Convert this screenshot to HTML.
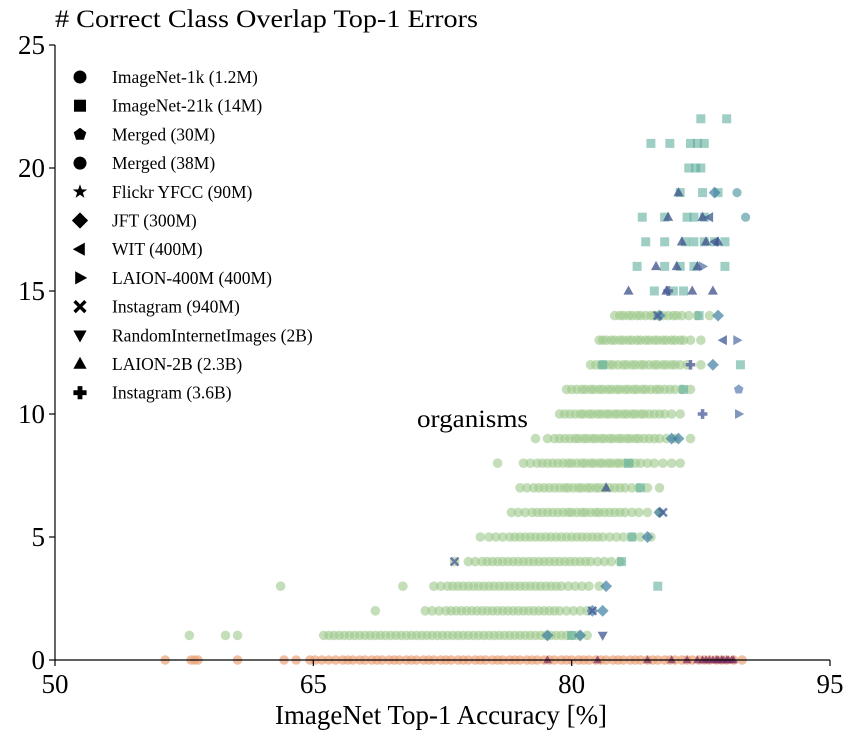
<!DOCTYPE html>
<html><head><meta charset="utf-8"><style>
body{margin:0;background:#fff}
svg{display:block;font-family:"Liberation Serif",serif}
</style></head><body>
<svg id="chart" width="862" height="748" viewBox="0 0 862 748" xmlns="http://www.w3.org/2000/svg">
<text x="55" y="27" font-size="25" textLength="423" lengthAdjust="spacingAndGlyphs"># Correct Class Overlap Top-1 Errors</text>
<g id="marks"></g>
<g id="axes"></g>
<text x="417" y="427" font-size="25" textLength="111" lengthAdjust="spacingAndGlyphs">organisms</text>
<text x="275" y="724" font-size="27" textLength="332" lengthAdjust="spacingAndGlyphs">ImageNet Top-1 Accuracy [%]</text>
<g id="legend"></g>
</svg>
<script>
const xTicks=[50,65,80,95];
const yTicks=[0,5,10,15,20,25];
const greenRows=[
[14,[82.5,82.8,83.0,83.3,83.5,83.8,84.0,84.3,84.6,84.8,85.0,85.3,85.6,85.9,86.1,86.4,86.8,87.3,88.0]],
[13,[81.6,81.8,82.0,82.3,82.5,82.8,83.0,83.3,83.5,83.8,84.0,84.3,84.5,84.8,85.0,85.3,85.5,85.8,86.0,86.3,86.5,86.9,87.5]],
[12,[81.1,81.4,81.7,81.9,82.2,82.4,82.7,83.0,83.2,83.5,83.7,84.0,84.2,84.5,84.8,85.0,85.3,85.5,85.8,86.0,86.3,86.7,87.5]],
[11,[79.7,80.0,80.3,80.6,80.8,81.1,81.3,81.6,81.8,82.1,82.3,82.6,82.8,83.1,83.3,83.6,83.8,84.1,84.3,84.6,84.9,85.1,85.4,85.7,86.0,86.4,86.9]],
[10,[79.3,79.6,79.9,80.2,80.5,80.7,81.0,81.2,81.5,81.7,82.0,82.2,82.5,82.7,83.0,83.2,83.5,83.7,84.0,84.2,84.5,84.8,85.1,85.4,85.8,86.3]],
[9,[77.9,78.6,79.0,79.3,79.6,79.9,80.2,80.4,80.7,80.9,81.2,81.4,81.7,81.9,82.2,82.4,82.7,82.9,83.2,83.4,83.7,83.9,84.2,84.5,84.8,85.1,85.5,86.0,86.9]],
[8,[75.7,77.2,77.6,78.0,78.3,78.6,78.9,79.2,79.5,79.8,80.0,80.3,80.6,80.8,81.1,81.3,81.6,81.8,82.1,82.3,82.6,82.8,83.1,83.4,83.7,84.0,84.4,84.8,85.3,85.8,86.3]],
[7,[77.0,77.4,77.8,78.1,78.4,78.7,79.0,79.3,79.6,79.8,80.1,80.4,80.6,80.9,81.1,81.4,81.6,81.9,82.2,82.5,82.8,83.1,83.5,83.9,84.4,85.1]],
[6,[76.5,76.9,77.3,77.7,78.0,78.3,78.6,78.9,79.2,79.5,79.8,80.0,80.3,80.6,80.8,81.1,81.4,81.6,81.9,82.2,82.5,82.8,83.1,83.5,83.9,84.4,85.1]],
[5,[74.7,75.2,75.6,76.0,76.4,76.7,77.0,77.3,77.6,77.9,78.2,78.5,78.8,79.1,79.4,79.7,80.0,80.3,80.6,80.9,81.2,81.5,81.8,82.2,82.6,83.0,83.5,84.0,84.6]],
[4,[73.2,74.0,74.4,74.8,75.1,75.4,75.7,76.0,76.3,76.6,76.9,77.2,77.5,77.8,78.1,78.4,78.7,79.0,79.3,79.6,79.9,80.2,80.5,80.8,81.1,81.5,81.9,82.3,82.8]],
[3,[63.1,70.2,72.0,72.4,72.8,73.1,73.4,73.7,74.0,74.3,74.6,74.9,75.2,75.5,75.8,76.1,76.4,76.7,77.0,77.3,77.6,77.9,78.2,78.5,78.8,79.1,79.4,79.8,80.2,80.6,81.0,81.6]],
[2,[68.6,71.5,71.9,72.3,72.7,73.0,73.3,73.6,73.9,74.2,74.5,74.8,75.1,75.4,75.7,76.0,76.3,76.6,76.9,77.2,77.5,77.8,78.1,78.4,78.7,79.0,79.3,79.7,80.1,80.5,80.9]],
[1,[57.8,59.9,60.6,65.6,65.9,66.2,66.5,66.8,67.1,67.4,67.7,68.0,68.3,68.6,68.9,69.2,69.5,69.8,70.1,70.4,70.7,71.0,71.3,71.6,71.9,72.2,72.5,72.8,73.1,73.4,73.7,74.0,74.3,74.6,74.9,75.2,75.5,75.8,76.1,76.4,76.7,77.0,77.3,77.6,77.9,78.2,78.5,78.8,79.1,79.4,79.7,80.0,80.4,80.9]]
];
const zeroOrange=[56.4,57.9,58.1,58.3,60.6,63.3,64.0,64.8,65.1,65.5,65.9,66.3,66.7,67.0,67.3,67.7,68.0,68.4,68.7,69.0,69.4,69.7,70.0,70.4,70.7,71.0,71.4,71.7,72.0,72.4,72.7,73.0,73.4,73.7,74.0,74.4,74.7,75.0,75.4,75.7,76.0,76.4,76.7,77.0,77.4,77.7,78.0,78.4,78.7,79.0,79.4,79.7,80.0,80.4,80.7,81.0,81.4,81.7,82.0,82.4,82.7,83.0,83.4,83.7,84.0,84.4,84.7,85.0,85.4,85.7,86.0,86.4,86.7,87.0,87.4,87.7,88.0,88.4,88.7,89.0,89.4,89.9];
const zeroDark=[78.6,81.5,84.4,85.8,86.7,87.3,87.6,87.8,88.0,88.2,88.4,88.5,88.7,88.8,89.0,89.1,89.3,89.4];
const squaresX=[87.5,89.0,84.6,85.7,86.9,87.3,87.7,86.8,87.2,87.5,86.3,87.6,88.5,84.1,85.4,86.7,87.1,87.7,84.3,85.4,86.6,87.1,87.7,88.3,88.9,83.8,85.4,86.3,87.1,88.9,84.8,85.9,86.5,87.4,81.8,89.8,86.5,83.5,84.0,82.9,80.0,85.0,83.3];
const squaresY=[22,22,21,21,21,21,21,20,20,20,19,19,19,18,18,18,18,18,17,17,17,17,17,17,17,16,16,16,16,16,15,15,15,14,12,12,11,5,7,4,1,3,8];
const trianglesX=[86.2,85.6,87.6,86.4,87.8,88.5,84.9,86.1,87.3,83.3,85.5,87.0,88.2,82.0];
const trianglesY=[19,18,18,17,17,17,16,16,16,15,15,15,15,7];
const diamondsX=[88.3,85.1,88.5,85.8,86.2,85.1,84.4,82.0,81.2,81.8,78.6,80.5,88.2];
const diamondsY=[19,14,14,9,9,6,5,3,2,2,1,1,12];
const leftTriX=[88.0,88.8,88.3];
const leftTriY=[18,13,17];
const rightTriX=[89.6,89.7,87.6];
const rightTriY=[13,10,16];
const circleTealX=[89.6,90.1];
const circleTealY=[19,18];
const crossX=[73.2,85.3,81.2,85.0];
const crossY=[4,6,2,14];
const plusX=[87.6,86.9,85.6];
const plusY=[10,12,15];
const pentX=[89.7];
const pentY=[11];
const downTriX=[81.8];
const downTriY=[1];

const X0=55,X1=830,Y0=660,Y1=45;
const sx=v=>X0+(v-50)/45*(X1-X0);
const sy=v=>Y0-(v/25)*(Y0-Y1);
const NS="http://www.w3.org/2000/svg";
const marks=document.getElementById('marks');
function shape(kind,cx,cy,s){
  let el;
  if(kind==='circle'){el=document.createElementNS(NS,'circle');el.setAttribute('cx',cx);el.setAttribute('cy',cy);el.setAttribute('r',s);}
  else if(kind==='square'){el=document.createElementNS(NS,'rect');el.setAttribute('x',cx-s);el.setAttribute('y',cy-s);el.setAttribute('width',2*s);el.setAttribute('height',2*s);}
  else{
    let p=[];
    if(kind==='tri')p=[[0,-s*1.2],[s*1.1,s*0.8],[-s*1.1,s*0.8]];
    if(kind==='down')p=[[0,s*1.2],[s*1.1,-s*0.8],[-s*1.1,-s*0.8]];
    if(kind==='diamond')p=[[0,-s*1.35],[s*1.35,0],[0,s*1.35],[-s*1.35,0]];
    if(kind==='left')p=[[-s*1.2,0],[s*0.8,-s*1.1],[s*0.8,s*1.1]];
    if(kind==='right')p=[[s*1.2,0],[-s*0.8,-s*1.1],[-s*0.8,s*1.1]];
    if(kind==='pent'){for(let i=0;i<5;i++){const a=-Math.PI/2+i*2*Math.PI/5;p.push([s*1.1*Math.cos(a),s*1.1*Math.sin(a)]);}}
    if(kind==='plus'){const a=s*0.4,b=s*1.1;p=[[-a,-b],[a,-b],[a,-a],[b,-a],[b,a],[a,a],[a,b],[-a,b],[-a,a],[-b,a],[-b,-a],[-a,-a]];}
    if(kind==='cross'){const a=s*0.4,b=s*1.1;p=[[-b,-b+a],[-b+a,-b],[0,-a],[b-a,-b],[b,-b+a],[a,0],[b,b-a],[b-a,b],[0,a],[-b+a,b],[-b,b-a],[-a,0]];}
    el=document.createElementNS(NS,'polygon');
    el.setAttribute('points',p.map(q=>(cx+q[0])+','+(cy+q[1])).join(' '));
  }
  return el;
}
function plot(xs,ys,kind,color,op,s,name){
  xs.forEach((x,i)=>{
    const el=shape(kind,sx(x),sy(ys[i]),s);
    el.setAttribute('fill',color);el.setAttribute('fill-opacity',op);
    
    
    marks.appendChild(el);
  });
}
greenRows.forEach(r=>{plot(r[1],r[1].map(()=>r[0]),'circle','#9cc88a',0.6,4.8,'point-imagenet-1k');});
plot(zeroOrange,zeroOrange.map(()=>0),'circle','#eba27a',0.7,4.8,'point-zero-errors');
plot(zeroDark,zeroDark.map(()=>0),'tri','#7a2e63',0.7,4,'point-zero-errors-dark');
plot(squaresX,squaresY,'square','#5dae9c',0.6,4.5,'point-imagenet-21k');
plot(circleTealX,circleTealY,'circle','#4f97a0',0.65,4.6,'point-merged');
plot(trianglesX,trianglesY,'tri','#3b4f88',0.75,4.6,'point-laion-2b');
plot(diamondsX,diamondsY,'diamond','#3f7fa3',0.7,4.4,'point-jft');
plot(leftTriX,leftTriY,'left','#3b5590',0.75,4.6,'point-wit');
plot(rightTriX,rightTriY,'right','#4a6aa0',0.7,4.6,'point-laion-400m');
plot(crossX,crossY,'cross','#4a5a98',0.75,4.4,'point-instagram-940m');
plot(plusX,plusY,'plus','#4a5a98',0.75,4.4,'point-instagram-3.6b');
plot(pentX,pentY,'pent','#5a7ab0',0.7,4.6,'point-merged-30m');
plot(downTriX,downTriY,'down','#3f5590',0.75,4.6,'point-random-internet');

const ax=document.getElementById('axes');
function line(x1,y1,x2,y2,name){const l=document.createElementNS(NS,'line');l.setAttribute('x1',x1);l.setAttribute('y1',y1);l.setAttribute('x2',x2);l.setAttribute('y2',y2);l.setAttribute('stroke','#000');l.setAttribute('stroke-width',1.2);


ax.appendChild(l);}
line(X0,Y0,X1,Y0,'x-axis-line');line(X0,Y0,X0,Y1,'y-axis-line');
function txt(x,y,s,anchor,size,name,parent){const t=document.createElementNS(NS,'text');t.setAttribute('x',x);t.setAttribute('y',y);t.setAttribute('text-anchor',anchor);t.setAttribute('font-size',size);t.textContent=s;


(parent||ax).appendChild(t);}
xTicks.forEach(v=>{line(sx(v),Y0,sx(v),Y0+6,'x-tick');txt(sx(v),Y0+33,String(v),'middle',27,'x-tick-label');});
yTicks.forEach(v=>{line(X0-6,sy(v),X0,sy(v),'y-tick');txt(X0-10,sy(v)+9,String(v),'end',27,'y-tick-label');});

const legendLabels=['ImageNet-1k (1.2M)','ImageNet-21k (14M)','Merged (30M)','Merged (38M)','Flickr YFCC (90M)','JFT (300M)','WIT (400M)','LAION-400M (400M)','Instagram (940M)','RandomInternetImages (2B)','LAION-2B (2.3B)','Instagram (3.6B)'];
const legendShapes=['circle','square','pent','oct','star','diamond','left','right','cross','down','tri','plus'];
const lg=document.getElementById('legend');
legendLabels.forEach((lab,i)=>{
  const y=77+i*28.7;
  let k=legendShapes[i],el;
  if(k==='oct'){el=shape('circle',80,y,6.5);}
  else if(k==='star'){el=document.createElementNS(NS,'polygon');let p=[];for(let j=0;j<10;j++){const r=j%2?3:7.5;const a=-Math.PI/2+j*Math.PI/5;p.push((80+r*Math.cos(a))+','+(y+r*Math.sin(a)));}el.setAttribute('points',p.join(' '));}
  else el=shape(k,80,y,k==='circle'?6.5:6);
  el.setAttribute('fill','#000');
  
  
  lg.appendChild(el);
  txt(112,y+6,lab,'start',17.5,'legend-label',lg);
});
</script>
</body></html>
